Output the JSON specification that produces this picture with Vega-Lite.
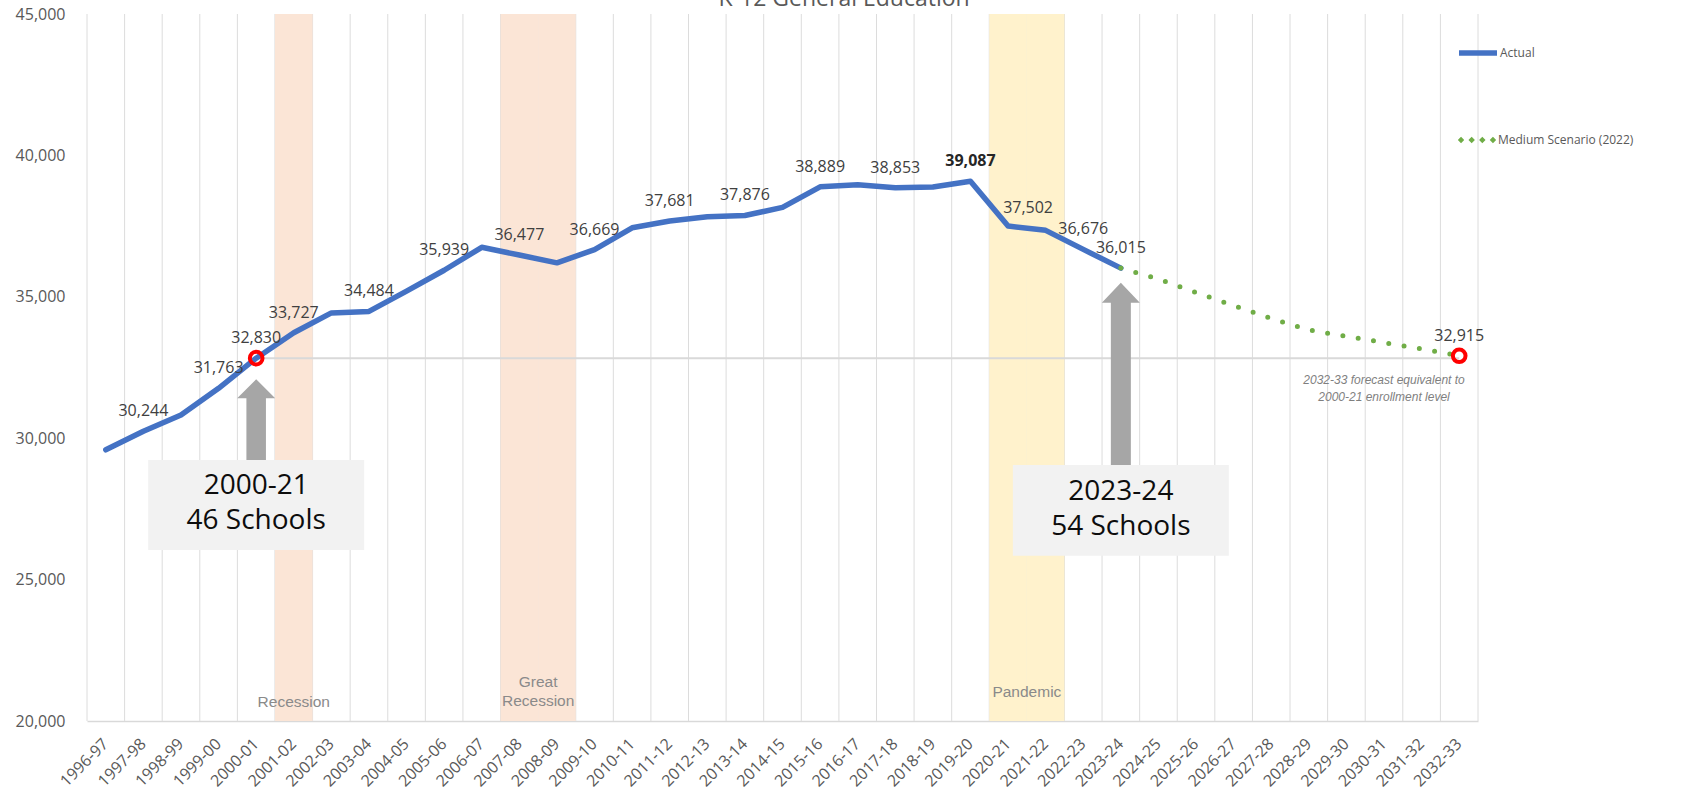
{
  "$schema": "https://vega.github.io/schema/vega-lite/v6.json",
  "width": 1391,
  "height": 707,
  "autosize": {"type": "none"},
  "padding": {"left": 87, "top": 14, "right": 207, "bottom": 85},
  "background": "white",
  "config": {
    "view": {"stroke": null},
    "font": "Open Sans",
    "legend": {"padding": 0},
    "axisX": {
      "labelAngle": -45,
      "labelAlign": "right",
      "labelBaseline": "middle",
      "labelFont": "Open Sans",
      "labelFontSize": 16,
      "labelColor": "#595959",
      "labelPadding": 20,
      "labelOverlap": false,
      "ticks": false,
      "grid": false,
      "domainColor": "#d9d9d9",
      "domainWidth": 1.5
    },
    "axisY": {
      "labelFont": "Open Sans",
      "labelFontSize": 16,
      "labelColor": "#595959",
      "labelPadding": 22,
      "ticks": false,
      "domain": false,
      "grid": false
    }
  },
  "datasets": {
    "cats": [
      {"cat": "1996-97"}, {"cat": "1997-98"}, {"cat": "1998-99"}, {"cat": "1999-00"}, {"cat": "2000-01"},
      {"cat": "2001-02"}, {"cat": "2002-03"}, {"cat": "2003-04"}, {"cat": "2004-05"}, {"cat": "2005-06"},
      {"cat": "2006-07"}, {"cat": "2007-08"}, {"cat": "2008-09"}, {"cat": "2009-10"}, {"cat": "2010-11"},
      {"cat": "2011-12"}, {"cat": "2012-13"}, {"cat": "2013-14"}, {"cat": "2014-15"}, {"cat": "2015-16"},
      {"cat": "2016-17"}, {"cat": "2017-18"}, {"cat": "2018-19"}, {"cat": "2019-20"}, {"cat": "2020-21"},
      {"cat": "2021-22"}, {"cat": "2022-23"}, {"cat": "2023-24"}, {"cat": "2024-25"}, {"cat": "2025-26"},
      {"cat": "2026-27"}, {"cat": "2027-28"}, {"cat": "2028-29"}, {"cat": "2029-30"}, {"cat": "2030-31"},
      {"cat": "2031-32"}, {"cat": "2032-33"}
    ],
    "lines": [
      {"cat": "1996-97", "v": 29590, "series": "Actual"},
      {"cat": "1997-98", "v": 30244, "series": "Actual"},
      {"cat": "1998-99", "v": 30820, "series": "Actual"},
      {"cat": "1999-00", "v": 31763, "series": "Actual"},
      {"cat": "2000-01", "v": 32830, "series": "Actual"},
      {"cat": "2001-02", "v": 33727, "series": "Actual"},
      {"cat": "2002-03", "v": 34430, "series": "Actual"},
      {"cat": "2003-04", "v": 34484, "series": "Actual"},
      {"cat": "2004-05", "v": 35200, "series": "Actual"},
      {"cat": "2005-06", "v": 35939, "series": "Actual"},
      {"cat": "2006-07", "v": 36750, "series": "Actual"},
      {"cat": "2007-08", "v": 36477, "series": "Actual"},
      {"cat": "2008-09", "v": 36200, "series": "Actual"},
      {"cat": "2009-10", "v": 36669, "series": "Actual"},
      {"cat": "2010-11", "v": 37440, "series": "Actual"},
      {"cat": "2011-12", "v": 37681, "series": "Actual"},
      {"cat": "2012-13", "v": 37830, "series": "Actual"},
      {"cat": "2013-14", "v": 37876, "series": "Actual"},
      {"cat": "2014-15", "v": 38160, "series": "Actual"},
      {"cat": "2015-16", "v": 38889, "series": "Actual"},
      {"cat": "2016-17", "v": 38960, "series": "Actual"},
      {"cat": "2017-18", "v": 38853, "series": "Actual"},
      {"cat": "2018-19", "v": 38880, "series": "Actual"},
      {"cat": "2019-20", "v": 39087, "series": "Actual"},
      {"cat": "2020-21", "v": 37502, "series": "Actual"},
      {"cat": "2021-22", "v": 37350, "series": "Actual"},
      {"cat": "2022-23", "v": 36676, "series": "Actual"},
      {"cat": "2023-24", "v": 36015, "series": "Actual"},
      {"cat": "2023-24", "v": 36015, "series": "Medium Scenario (2022)"},
      {"cat": "2024-25", "v": 35630, "series": "Medium Scenario (2022)"},
      {"cat": "2025-26", "v": 35150, "series": "Medium Scenario (2022)"},
      {"cat": "2026-27", "v": 34690, "series": "Medium Scenario (2022)"},
      {"cat": "2027-28", "v": 34230, "series": "Medium Scenario (2022)"},
      {"cat": "2028-29", "v": 33830, "series": "Medium Scenario (2022)"},
      {"cat": "2029-30", "v": 33600, "series": "Medium Scenario (2022)"},
      {"cat": "2030-31", "v": 33380, "series": "Medium Scenario (2022)"},
      {"cat": "2031-32", "v": 33160, "series": "Medium Scenario (2022)"},
      {"cat": "2032-33", "v": 32915, "series": "Medium Scenario (2022)"}
    ],
    "labels": [
      {"cat": "1997-98", "v": 30244},
      {"cat": "1999-00", "v": 31763},
      {"cat": "2000-01", "v": 32830},
      {"cat": "2001-02", "v": 33727},
      {"cat": "2003-04", "v": 34484},
      {"cat": "2005-06", "v": 35939},
      {"cat": "2007-08", "v": 36477},
      {"cat": "2009-10", "v": 36669},
      {"cat": "2011-12", "v": 37681},
      {"cat": "2013-14", "v": 37876},
      {"cat": "2015-16", "v": 38889},
      {"cat": "2017-18", "v": 38853},
      {"cat": "2019-20", "v": 39087},
      {"cat": "2020-21", "v": 37502},
      {"cat": "2022-23", "v": 36676},
      {"cat": "2023-24", "v": 36015},
      {"cat": "2032-33", "v": 32915}
    ],
    "bands": [
      {"cat": "2001-02", "period": "Recession"},
      {"cat": "2007-08", "period": "Great Recession"},
      {"cat": "2008-09", "period": "Great Recession"},
      {"cat": "2020-21", "period": "Pandemic"},
      {"cat": "2021-22", "period": "Pandemic"}
    ],
    "circles": [
      {"cat": "2000-01", "v": 32830},
      {"cat": "2032-33", "v": 32915}
    ]
  },
  "layer": [
    {
      "data": {"name": "cats"},
      "mark": {"type": "rule", "color": "#dcdcdc", "strokeWidth": 1},
      "encoding": {
        "x": {
          "field": "cat", "type": "ordinal", "title": null, "bandPosition": 0,
          "scale": {
            "type": "band", "paddingInner": 0, "paddingOuter": 0,
            "domain": ["1996-97","1997-98","1998-99","1999-00","2000-01","2001-02","2002-03","2003-04","2004-05","2005-06","2006-07","2007-08","2008-09","2009-10","2010-11","2011-12","2012-13","2013-14","2014-15","2015-16","2016-17","2017-18","2018-19","2019-20","2020-21","2021-22","2022-23","2023-24","2024-25","2025-26","2026-27","2027-28","2028-29","2029-30","2030-31","2031-32","2032-33"]
          }
        },
        "y": {"datum": 45000, "type": "quantitative", "title": null,
          "scale": {"domain": [20000, 45000], "nice": false, "zero": false},
          "axis": {"values": [20000, 25000, 30000, 35000, 40000, 45000], "format": ",.0f"}
        },
        "y2": {"datum": 20000}
      }
    },
    {
      "data": {"name": "cats"},
      "transform": [{"filter": "datum.cat === '2032-33'"}],
      "mark": {"type": "rule", "color": "#dcdcdc", "strokeWidth": 1},
      "encoding": {
        "x": {"field": "cat", "type": "ordinal", "title": null, "bandPosition": 1},
        "y": {"datum": 45000, "type": "quantitative", "title": null},
        "y2": {"datum": 20000}
      }
    },
    {
      "data": {"name": "bands"},
      "mark": {"type": "bar"},
      "encoding": {
        "x": {"field": "cat", "type": "ordinal", "title": null},
        "y": {"datum": 45000, "type": "quantitative", "title": null},
        "y2": {"datum": 20000},
        "fill": {
          "field": "period",
          "type": "nominal",
          "scale": {"domain": ["Recession", "Great Recession", "Pandemic"], "range": ["#fbe5d6", "#fbe5d6", "#fff2cc"]},
          "legend": null
        }
      }
    },
    {
      "data": {"values": [{}]},
      "mark": {"type": "rule", "color": "#d9d9d9", "strokeWidth": 2},
      "encoding": {
        "x": {"datum": "2000-01", "type": "ordinal", "title": null},
        "x2": {"datum": "2032-33"},
        "y": {"datum": 32830, "type": "quantitative", "title": null}
      }
    },
    {
      "data": {"name": "lines"},
      "transform": [{"filter": "datum.series === 'Actual'"}],
      "mark": {"type": "line", "strokeWidth": 5.5, "strokeCap": "round", "strokeJoin": "round"},
      "encoding": {
        "x": {"field": "cat", "type": "ordinal", "title": null},
        "y": {"field": "v", "type": "quantitative", "title": null},
        "color": {
          "field": "series",
          "type": "nominal",
          "scale": {"domain": ["Actual"], "range": ["#4472c4"]},
          "legend": {
            "title": null,
            "orient": "none",
            "legendX": 1369,
            "legendY": 17,
            "symbolType": "stroke",
            "symbolSize": 1444,
            "symbolStrokeWidth": 5.5,
            "labelFont": "Open Sans",
            "labelFontSize": 12,
            "labelColor": "#595959",
            "labelOffset": 0
          }
        }
      }
    },
    {
      "data": {"name": "lines"},
      "transform": [{"filter": "datum.series !== 'Actual'"}],
      "mark": {"type": "line", "strokeWidth": 5, "strokeCap": "round", "strokeDash": [0, 15.5]},
      "encoding": {
        "x": {"field": "cat", "type": "ordinal", "title": null},
        "y": {"field": "v", "type": "quantitative", "title": null},
        "color": {
          "field": "series",
          "type": "nominal",
          "scale": {"domain": ["Medium Scenario (2022)"], "range": ["#70ad47"]},
          "legend": {
            "title": null,
            "orient": "none",
            "legendX": 1369,
            "legendY": 105,
            "symbolType": "M-0.86,0L-0.84,-0.02L-0.82,0L-0.84,0.02Z M-0.3,0L-0.28,-0.02L-0.26,0L-0.28,0.02Z M0.26,0L0.28,-0.02L0.3,0L0.28,0.02Z M0.82,0L0.84,-0.02L0.86,0L0.84,0.02Z",
            "symbolSize": 1444,
            "symbolStrokeWidth": 4,
            "symbolDash": [],
            "labelFont": "Open Sans",
            "labelFontSize": 12,
            "labelColor": "#595959",
            "labelOffset": 0
          }
        }
      }
    },
    {
      "data": {"name": "circles"},
      "mark": {"type": "point", "shape": "circle", "filled": false, "stroke": "#ff0000", "strokeWidth": 4, "size": 160, "opacity": 1},
      "encoding": {
        "x": {"field": "cat", "type": "ordinal", "title": null},
        "y": {"field": "v", "type": "quantitative", "title": null}
      }
    },
    {
      "data": {"values": [{}]},
      "mark": {"type": "point", "filled": true, "fill": "#a6a6a6", "strokeWidth": 0, "opacity": 1, "size": 6561,
        "shape": "M0,-1L0.469,-0.531L0.241,-0.531L0.241,1L-0.241,1L-0.241,-0.531L-0.469,-0.531Z"},
      "encoding": {
        "x": {"datum": "2000-01", "type": "ordinal", "title": null},
        "y": {"datum": 30654, "type": "quantitative", "title": null}
      }
    },
    {
      "data": {"values": [{}]},
      "mark": {"type": "point", "filled": true, "fill": "#a6a6a6", "strokeWidth": 0, "opacity": 1, "size": 33233,
        "shape": "M0,-1L0.2085,-0.781L0.1097,-0.781L0.1097,1L-0.1097,1L-0.1097,-0.781L-0.2085,-0.781Z"},
      "encoding": {
        "x": {"datum": "2023-24", "type": "ordinal", "title": null},
        "y": {"datum": 32275, "type": "quantitative", "title": null}
      }
    },
    {
      "data": {"values": [{}]},
      "mark": {"type": "point", "filled": true, "fill": "#f2f2f2", "strokeWidth": 0, "opacity": 1, "size": 46656,
        "shape": "M-1,-0.4167L1,-0.4167L1,0.4167L-1,0.4167Z"},
      "encoding": {
        "x": {"datum": "2000-01", "type": "ordinal", "title": null},
        "y": {"datum": 27638, "type": "quantitative", "title": null}
      }
    },
    {
      "data": {"values": [{}]},
      "mark": {"type": "point", "filled": true, "fill": "#f2f2f2", "strokeWidth": 0, "opacity": 1, "size": 46656,
        "shape": "M-1,-0.42L1,-0.42L1,0.42L-1,0.42Z"},
      "encoding": {
        "x": {"datum": "2023-24", "type": "ordinal", "title": null},
        "y": {"datum": 27451, "type": "quantitative", "title": null}
      }
    },
    {
      "data": {"values": [{}]},
      "mark": {"type": "text", "fontSize": 28, "color": "#0d0d0d", "lineHeight": 35, "baseline": "middle", "align": "center", "font": "Open Sans"},
      "encoding": {
        "x": {"datum": "2000-01", "type": "ordinal", "title": null},
        "y": {"datum": 28310, "type": "quantitative", "title": null},
        "text": {"value": ["2000-21", "46 Schools"]}
      }
    },
    {
      "data": {"values": [{}]},
      "mark": {"type": "text", "fontSize": 28, "color": "#0d0d0d", "lineHeight": 35, "baseline": "middle", "align": "center", "font": "Open Sans"},
      "encoding": {
        "x": {"datum": "2023-24", "type": "ordinal", "title": null},
        "y": {"datum": 28108, "type": "quantitative", "title": null},
        "text": {"value": ["2023-24", "54 Schools"]}
      }
    },
    {
      "data": {"name": "labels"},
      "transform": [{"filter": "datum.cat !== '2019-20' && datum.cat !== '2020-21'"}],
      "mark": {"type": "text", "fontSize": 16, "color": "#404040", "baseline": "middle", "align": "center", "dy": -20, "font": "Open Sans"},
      "encoding": {
        "x": {"field": "cat", "type": "ordinal", "title": null},
        "y": {"field": "v", "type": "quantitative", "title": null},
        "text": {"field": "v", "type": "quantitative", "format": ","}
      }
    },
    {
      "data": {"name": "labels"},
      "transform": [{"filter": "datum.cat === '2019-20'"}],
      "mark": {"type": "text", "fontSize": 16, "fontWeight": "bold", "color": "#262626", "baseline": "middle", "align": "center", "dy": -20, "font": "Open Sans"},
      "encoding": {
        "x": {"field": "cat", "type": "ordinal", "title": null},
        "y": {"field": "v", "type": "quantitative", "title": null},
        "text": {"field": "v", "type": "quantitative", "format": ","}
      }
    },
    {
      "data": {"name": "labels"},
      "transform": [{"filter": "datum.cat === '2020-21'"}],
      "mark": {"type": "text", "fontSize": 16, "color": "#404040", "baseline": "middle", "align": "center", "dx": 20, "dy": -18, "font": "Open Sans"},
      "encoding": {
        "x": {"field": "cat", "type": "ordinal", "title": null},
        "y": {"field": "v", "type": "quantitative", "title": null},
        "text": {"field": "v", "type": "quantitative", "format": ","}
      }
    },
    {
      "data": {"values": [{}]},
      "mark": {"type": "text", "font": "Liberation Sans", "fontSize": 15.5, "color": "#8a8a8a", "baseline": "middle", "align": "center"},
      "encoding": {
        "x": {"datum": "2001-02", "type": "ordinal", "title": null},
        "y": {"datum": 20682, "type": "quantitative", "title": null},
        "text": {"value": "Recession"}
      }
    },
    {
      "data": {"values": [{"cat": "2008-09"}]},
      "mark": {"type": "text", "font": "Liberation Sans", "fontSize": 15.5, "color": "#8a8a8a", "baseline": "middle", "align": "center", "lineHeight": 19},
      "encoding": {
        "x": {"field": "cat", "type": "ordinal", "title": null, "bandPosition": 0},
        "y": {"datum": 21390, "type": "quantitative", "title": null},
        "text": {"value": ["Great", "Recession"]}
      }
    },
    {
      "data": {"values": [{"cat": "2021-22"}]},
      "mark": {"type": "text", "font": "Liberation Sans", "fontSize": 15.5, "color": "#8a8a8a", "baseline": "middle", "align": "center"},
      "encoding": {
        "x": {"field": "cat", "type": "ordinal", "title": null, "bandPosition": 0},
        "y": {"datum": 21036, "type": "quantitative", "title": null},
        "text": {"value": "Pandemic"}
      }
    },
    {
      "data": {"values": [{}]},
      "mark": {"type": "text", "font": "Liberation Sans", "fontSize": 12, "fontStyle": "italic", "color": "#7f7f7f", "baseline": "middle", "align": "center", "lineHeight": 16.7},
      "encoding": {
        "x": {"datum": "2030-31", "type": "ordinal", "title": null},
        "y": {"datum": 32058, "type": "quantitative", "title": null},
        "text": {"value": ["2032-33 forecast equivalent to", "2000-21 enrollment level"]}
      }
    },
    {
      "data": {"values": [{"cat": "2016-17"}]},
      "mark": {"type": "text", "font": "Open Sans", "fontSize": 23, "color": "#595959", "baseline": "alphabetic", "align": "center"},
      "encoding": {
        "x": {"field": "cat", "type": "ordinal", "title": null, "bandPosition": 0.14},
        "y": {"datum": 45283, "type": "quantitative", "title": null},
        "text": {"value": "K-12 General Education"}
      }
    }
  ],
  "resolve": {"scale": {"color": "independent"}}
}
